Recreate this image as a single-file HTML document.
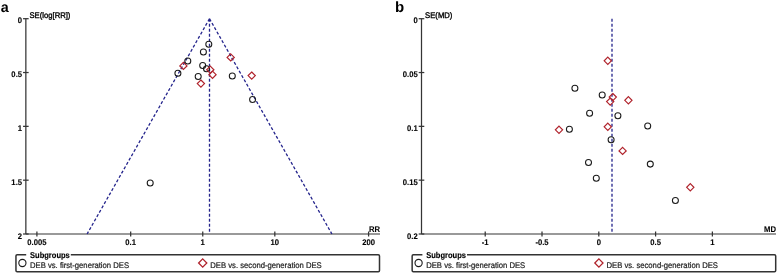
<!DOCTYPE html>
<html><head><meta charset="utf-8"><style>
html,body{margin:0;padding:0;background:#fff;width:778px;height:274px;overflow:hidden}
svg{display:block;will-change:transform}
text{font-family:"Liberation Sans",sans-serif;text-rendering:geometricPrecision}
</style></head><body>
<svg width="778" height="274" viewBox="0 0 778 274">
<text x="0.70" y="12.00" font-size="14.3" font-weight="bold" text-anchor="start" fill="#000">a</text>
<line x1="25.85" y1="18.70" x2="25.85" y2="234.00" stroke="#353535" stroke-width="1.25" />
<line x1="25.85" y1="234.00" x2="380.00" y2="234.00" stroke="#353535" stroke-width="1.1" />
<line x1="23.05" y1="18.70" x2="28.65" y2="18.70" stroke="#353535" stroke-width="1.25" />
<text transform="translate(22.05,23.30) scale(0.94,1)" font-size="8.19" font-weight="bold" text-anchor="end" fill="#000" stroke="#000" stroke-width="0.1">0</text>
<line x1="23.05" y1="72.53" x2="28.65" y2="72.53" stroke="#353535" stroke-width="1.25" />
<text transform="translate(22.05,77.12) scale(0.94,1)" font-size="8.19" font-weight="bold" text-anchor="end" fill="#000" stroke="#000" stroke-width="0.1">0.5</text>
<line x1="23.05" y1="126.35" x2="28.65" y2="126.35" stroke="#353535" stroke-width="1.25" />
<text transform="translate(22.05,130.95) scale(0.94,1)" font-size="8.19" font-weight="bold" text-anchor="end" fill="#000" stroke="#000" stroke-width="0.1">1</text>
<line x1="23.05" y1="180.18" x2="28.65" y2="180.18" stroke="#353535" stroke-width="1.25" />
<text transform="translate(22.05,184.78) scale(0.94,1)" font-size="8.19" font-weight="bold" text-anchor="end" fill="#000" stroke="#000" stroke-width="0.1">1.5</text>
<line x1="23.05" y1="234.00" x2="28.65" y2="234.00" stroke="#353535" stroke-width="1.25" />
<text transform="translate(22.05,238.60) scale(0.94,1)" font-size="8.19" font-weight="bold" text-anchor="end" fill="#000" stroke="#000" stroke-width="0.1">2</text>
<line x1="36.91" y1="231.50" x2="36.91" y2="236.50" stroke="#353535" stroke-width="1.25" />
<text transform="translate(36.91,244.90) scale(0.94,1)" font-size="8.19" font-weight="bold" text-anchor="middle" fill="#000" stroke="#000" stroke-width="0.1">0.005</text>
<line x1="130.68" y1="231.50" x2="130.68" y2="236.50" stroke="#353535" stroke-width="1.25" />
<text transform="translate(130.68,244.90) scale(0.94,1)" font-size="8.19" font-weight="bold" text-anchor="middle" fill="#000" stroke="#000" stroke-width="0.1">0.1</text>
<line x1="202.75" y1="231.50" x2="202.75" y2="236.50" stroke="#353535" stroke-width="1.25" />
<text transform="translate(202.75,244.90) scale(0.94,1)" font-size="8.19" font-weight="bold" text-anchor="middle" fill="#000" stroke="#000" stroke-width="0.1">1</text>
<line x1="274.82" y1="231.50" x2="274.82" y2="236.50" stroke="#353535" stroke-width="1.25" />
<text transform="translate(274.82,244.90) scale(0.94,1)" font-size="8.19" font-weight="bold" text-anchor="middle" fill="#000" stroke="#000" stroke-width="0.1">10</text>
<line x1="368.59" y1="231.50" x2="368.59" y2="236.50" stroke="#353535" stroke-width="1.25" />
<text transform="translate(368.59,244.90) scale(0.94,1)" font-size="8.19" font-weight="bold" text-anchor="middle" fill="#000" stroke="#000" stroke-width="0.1">200</text>
<text transform="translate(29.45,18.20) scale(0.94,1)" font-size="8.19" font-weight="normal" text-anchor="start" fill="#000" stroke="#000" stroke-width="0.35">SE(log[RR])</text>
<text transform="translate(380.00,231.80) scale(0.94,1)" font-size="8.19" font-weight="bold" text-anchor="end" fill="#000" stroke="#000" stroke-width="0.1">RR</text>
<text x="395.10" y="12.20" font-size="15" font-weight="bold" text-anchor="start" fill="#000">b</text>
<line x1="421.50" y1="18.70" x2="421.50" y2="234.00" stroke="#353535" stroke-width="1.25" />
<line x1="421.50" y1="234.00" x2="776.00" y2="234.00" stroke="#353535" stroke-width="1.1" />
<line x1="418.70" y1="18.70" x2="424.30" y2="18.70" stroke="#353535" stroke-width="1.25" />
<text transform="translate(417.70,23.30) scale(0.94,1)" font-size="8.19" font-weight="bold" text-anchor="end" fill="#000" stroke="#000" stroke-width="0.1">0</text>
<line x1="418.70" y1="72.53" x2="424.30" y2="72.53" stroke="#353535" stroke-width="1.25" />
<text transform="translate(417.70,77.12) scale(0.94,1)" font-size="8.19" font-weight="bold" text-anchor="end" fill="#000" stroke="#000" stroke-width="0.1">0.05</text>
<line x1="418.70" y1="126.35" x2="424.30" y2="126.35" stroke="#353535" stroke-width="1.25" />
<text transform="translate(417.70,130.95) scale(0.94,1)" font-size="8.19" font-weight="bold" text-anchor="end" fill="#000" stroke="#000" stroke-width="0.1">0.1</text>
<line x1="418.70" y1="180.17" x2="424.30" y2="180.17" stroke="#353535" stroke-width="1.25" />
<text transform="translate(417.70,184.77) scale(0.94,1)" font-size="8.19" font-weight="bold" text-anchor="end" fill="#000" stroke="#000" stroke-width="0.1">0.15</text>
<line x1="418.70" y1="234.00" x2="424.30" y2="234.00" stroke="#353535" stroke-width="1.25" />
<text transform="translate(417.70,238.60) scale(0.94,1)" font-size="8.19" font-weight="bold" text-anchor="end" fill="#000" stroke="#000" stroke-width="0.1">0.2</text>
<line x1="485.22" y1="231.50" x2="485.22" y2="236.50" stroke="#353535" stroke-width="1.25" />
<text transform="translate(485.22,244.90) scale(0.94,1)" font-size="8.19" font-weight="bold" text-anchor="middle" fill="#000" stroke="#000" stroke-width="0.1">-1</text>
<line x1="542.01" y1="231.50" x2="542.01" y2="236.50" stroke="#353535" stroke-width="1.25" />
<text transform="translate(542.01,244.90) scale(0.94,1)" font-size="8.19" font-weight="bold" text-anchor="middle" fill="#000" stroke="#000" stroke-width="0.1">-0.5</text>
<line x1="598.80" y1="231.50" x2="598.80" y2="236.50" stroke="#353535" stroke-width="1.25" />
<text transform="translate(598.80,244.90) scale(0.94,1)" font-size="8.19" font-weight="bold" text-anchor="middle" fill="#000" stroke="#000" stroke-width="0.1">0</text>
<line x1="655.59" y1="231.50" x2="655.59" y2="236.50" stroke="#353535" stroke-width="1.25" />
<text transform="translate(655.59,244.90) scale(0.94,1)" font-size="8.19" font-weight="bold" text-anchor="middle" fill="#000" stroke="#000" stroke-width="0.1">0.5</text>
<line x1="712.38" y1="231.50" x2="712.38" y2="236.50" stroke="#353535" stroke-width="1.25" />
<text transform="translate(712.38,244.90) scale(0.94,1)" font-size="8.19" font-weight="bold" text-anchor="middle" fill="#000" stroke="#000" stroke-width="0.1">1</text>
<text transform="translate(425.10,18.20) scale(0.94,1)" font-size="8.19" font-weight="normal" text-anchor="start" fill="#000" stroke="#000" stroke-width="0.35">SE(MD)</text>
<text transform="translate(776.00,231.80) scale(0.94,1)" font-size="8.19" font-weight="bold" text-anchor="end" fill="#000" stroke="#000" stroke-width="0.1">MD</text>
<line x1="209.50" y1="18.70" x2="209.50" y2="232.50" stroke="#24248c" stroke-width="1.3" stroke-dasharray="3 2"/>
<line x1="209.50" y1="18.70" x2="87.10" y2="234.00" stroke="#24248c" stroke-width="1.3" stroke-dasharray="3 2"/>
<line x1="209.50" y1="18.70" x2="331.90" y2="234.00" stroke="#24248c" stroke-width="1.3" stroke-dasharray="3 2"/>
<line x1="612.00" y1="18.80" x2="612.00" y2="232.50" stroke="#24248c" stroke-width="1.3" stroke-dasharray="3 2"/>
<circle cx="208.80" cy="44.30" r="3.0" fill="none" stroke="#1a1a1a" stroke-width="1.05"/>
<circle cx="203.40" cy="52.00" r="3.0" fill="none" stroke="#1a1a1a" stroke-width="1.05"/>
<circle cx="187.80" cy="60.90" r="3.0" fill="none" stroke="#1a1a1a" stroke-width="1.05"/>
<circle cx="202.70" cy="65.40" r="3.0" fill="none" stroke="#1a1a1a" stroke-width="1.05"/>
<circle cx="206.50" cy="68.70" r="3.0" fill="none" stroke="#1a1a1a" stroke-width="1.05"/>
<circle cx="177.90" cy="73.30" r="3.0" fill="none" stroke="#1a1a1a" stroke-width="1.05"/>
<circle cx="198.20" cy="76.50" r="3.0" fill="none" stroke="#1a1a1a" stroke-width="1.05"/>
<circle cx="232.30" cy="76.00" r="3.0" fill="none" stroke="#1a1a1a" stroke-width="1.05"/>
<circle cx="252.60" cy="99.50" r="3.0" fill="none" stroke="#1a1a1a" stroke-width="1.05"/>
<circle cx="150.20" cy="182.90" r="3.0" fill="none" stroke="#1a1a1a" stroke-width="1.05"/>
<path d="M183.40 62.30L187.00 65.90L183.40 69.50L179.80 65.90Z" fill="none" stroke="#b0232c" stroke-width="1.2"/>
<path d="M210.30 66.20L213.90 69.80L210.30 73.40L206.70 69.80Z" fill="none" stroke="#b0232c" stroke-width="1.2"/>
<path d="M212.50 71.10L216.10 74.70L212.50 78.30L208.90 74.70Z" fill="none" stroke="#b0232c" stroke-width="1.2"/>
<path d="M200.90 80.00L204.50 83.60L200.90 87.20L197.30 83.60Z" fill="none" stroke="#b0232c" stroke-width="1.2"/>
<path d="M230.70 53.80L234.30 57.40L230.70 61.00L227.10 57.40Z" fill="none" stroke="#b0232c" stroke-width="1.2"/>
<path d="M251.70 72.00L255.30 75.60L251.70 79.20L248.10 75.60Z" fill="none" stroke="#b0232c" stroke-width="1.2"/>
<circle cx="574.90" cy="88.20" r="3.0" fill="none" stroke="#1a1a1a" stroke-width="1.05"/>
<circle cx="602.20" cy="95.00" r="3.0" fill="none" stroke="#1a1a1a" stroke-width="1.05"/>
<circle cx="589.60" cy="113.20" r="3.0" fill="none" stroke="#1a1a1a" stroke-width="1.05"/>
<circle cx="617.90" cy="115.70" r="3.0" fill="none" stroke="#1a1a1a" stroke-width="1.05"/>
<circle cx="569.40" cy="129.20" r="3.0" fill="none" stroke="#1a1a1a" stroke-width="1.05"/>
<circle cx="647.70" cy="126.00" r="3.0" fill="none" stroke="#1a1a1a" stroke-width="1.05"/>
<circle cx="611.10" cy="139.70" r="3.0" fill="none" stroke="#1a1a1a" stroke-width="1.05"/>
<circle cx="588.50" cy="162.40" r="3.0" fill="none" stroke="#1a1a1a" stroke-width="1.05"/>
<circle cx="650.30" cy="164.10" r="3.0" fill="none" stroke="#1a1a1a" stroke-width="1.05"/>
<circle cx="596.30" cy="178.20" r="3.0" fill="none" stroke="#1a1a1a" stroke-width="1.05"/>
<circle cx="675.40" cy="200.40" r="3.0" fill="none" stroke="#1a1a1a" stroke-width="1.05"/>
<path d="M607.80 57.20L611.40 60.80L607.80 64.40L604.20 60.80Z" fill="none" stroke="#b0232c" stroke-width="1.2"/>
<path d="M612.80 93.50L616.40 97.10L612.80 100.70L609.20 97.10Z" fill="none" stroke="#b0232c" stroke-width="1.2"/>
<path d="M610.20 98.00L613.80 101.60L610.20 105.20L606.60 101.60Z" fill="none" stroke="#b0232c" stroke-width="1.2"/>
<path d="M628.40 96.70L632.00 100.30L628.40 103.90L624.80 100.30Z" fill="none" stroke="#b0232c" stroke-width="1.2"/>
<path d="M559.00 126.20L562.60 129.80L559.00 133.40L555.40 129.80Z" fill="none" stroke="#b0232c" stroke-width="1.2"/>
<path d="M607.80 123.20L611.40 126.80L607.80 130.40L604.20 126.80Z" fill="none" stroke="#b0232c" stroke-width="1.2"/>
<path d="M622.60 147.30L626.20 150.90L622.60 154.50L619.00 150.90Z" fill="none" stroke="#b0232c" stroke-width="1.2"/>
<path d="M690.30 183.70L693.90 187.30L690.30 190.90L686.70 187.30Z" fill="none" stroke="#b0232c" stroke-width="1.2"/>
<path d="M26.20 254.8H17.15Q15.95 254.8 15.95 256.0V270.6Q15.95 271.8 17.15 271.8H378.30Q379.50 271.8 379.50 270.6V256.0Q379.50 254.8 378.30 254.8H70.80" fill="none" stroke="#333" stroke-width="1.5"/>
<text transform="translate(30.00,257.60) scale(0.9,1)" font-size="8.39" font-weight="bold" text-anchor="start" fill="#000" stroke="#000" stroke-width="0.15">Subgroups</text>
<circle cx="22.40" cy="263.00" r="3.6" fill="none" stroke="#1a1a1a" stroke-width="1.1"/>
<text transform="translate(30.00,267.90) scale(0.94,1)" font-size="8.19" font-weight="normal" text-anchor="start" fill="#1e1e1e" stroke="#1e1e1e" stroke-width="0.22">DEB vs. first-generation DES</text>
<path d="M202.70 258.90L206.80 263.00L202.70 267.10L198.60 263.00Z" fill="none" stroke="#b0232c" stroke-width="1.3"/>
<text transform="translate(210.30,267.90) scale(0.94,1)" font-size="8.19" font-weight="normal" text-anchor="start" fill="#1e1e1e" stroke="#1e1e1e" stroke-width="0.22">DEB vs. second-generation DES</text>
<path d="M422.40 254.8H413.35Q412.15 254.8 412.15 256.0V270.6Q412.15 271.8 413.35 271.8H774.50Q775.70 271.8 775.70 270.6V256.0Q775.70 254.8 774.50 254.8H467.00" fill="none" stroke="#333" stroke-width="1.5"/>
<text transform="translate(426.20,257.60) scale(0.9,1)" font-size="8.39" font-weight="bold" text-anchor="start" fill="#000" stroke="#000" stroke-width="0.15">Subgroups</text>
<circle cx="418.60" cy="263.00" r="3.6" fill="none" stroke="#1a1a1a" stroke-width="1.1"/>
<text transform="translate(426.20,267.90) scale(0.94,1)" font-size="8.19" font-weight="normal" text-anchor="start" fill="#1e1e1e" stroke="#1e1e1e" stroke-width="0.22">DEB vs. first-generation DES</text>
<path d="M598.90 258.90L603.00 263.00L598.90 267.10L594.80 263.00Z" fill="none" stroke="#b0232c" stroke-width="1.3"/>
<text transform="translate(606.50,267.90) scale(0.94,1)" font-size="8.19" font-weight="normal" text-anchor="start" fill="#1e1e1e" stroke="#1e1e1e" stroke-width="0.22">DEB vs. second-generation DES</text>
</svg>
</body></html>
